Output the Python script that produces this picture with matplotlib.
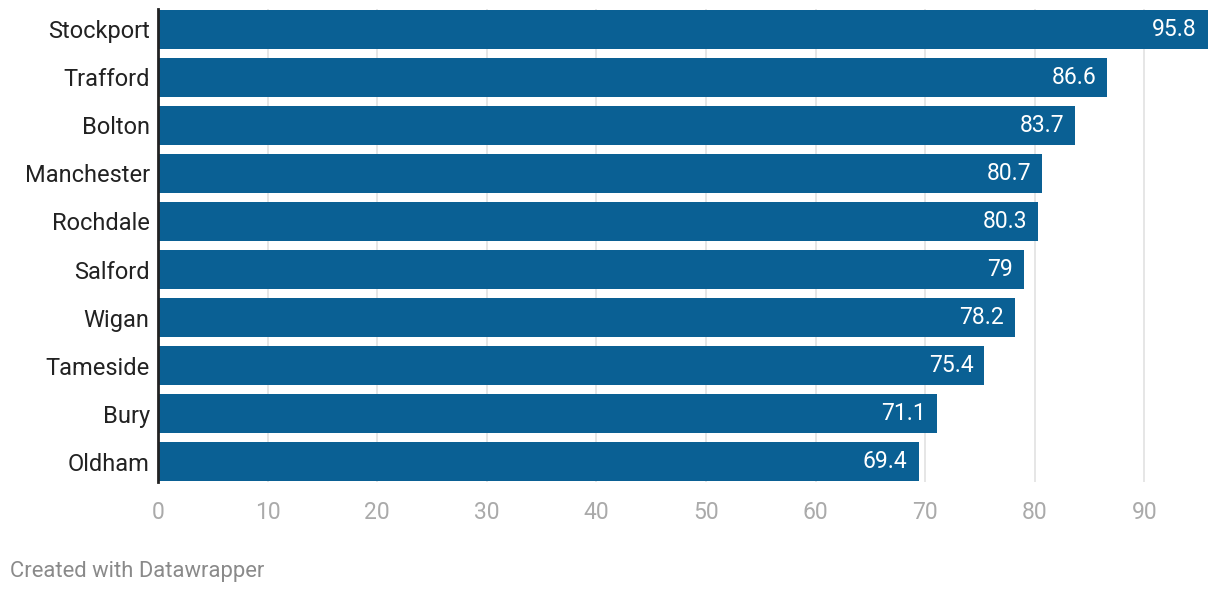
import matplotlib.pyplot as plt

plt.rcParams["font.family"] = ["Roboto", "DejaVu Sans"]

# Data
districts = ["Stockport", "Trafford", "Bolton", "Manchester", "Rochdale",
             "Salford", "Wigan", "Tameside", "Bury", "Oldham"]
values = [95.8, 86.6, 83.7, 80.7, 80.3, 79, 78.2, 75.4, 71.1, 69.4]
value_labels = ["95.8", "86.6", "83.7", "80.7", "80.3", "79", "78.2", "75.4", "71.1", "69.4"]
x_ticks = [0, 10, 20, 30, 40, 50, 60, 70, 80, 90]

bar_color = "#0a6094"

fig = plt.figure(figsize=(12.2, 5.94), dpi=100)
ax = fig.add_axes([158 / 1220, 1 - 482 / 594, 1050 / 1220, 473 / 594])

pos = list(range(len(districts)))
ax.barh(pos, values, height=0.81, color=bar_color, zorder=2)

for p, v, lab in zip(pos, values, value_labels):
    ax.text(v - 1.0, p, lab, ha="right", va="center", color="white",
            fontsize=16.5, zorder=3)

ax.set_xlim(0, 95.8)
ax.set_ylim(9.42, -0.42)
ax.set_yticks(pos)
ax.set_yticklabels(districts, fontsize=17, color="#222222")
ax.set_xticks(x_ticks)
ax.set_xticklabels([str(t) for t in x_ticks], fontsize=16.5, color="#aaaaaa")
ax.tick_params(axis="both", length=0)
ax.tick_params(axis="x", pad=14)
ax.tick_params(axis="y", pad=6)

ax.grid(axis="x", color="#e2e2e2", linewidth=1.2, zorder=0)
for side in ["top", "right", "bottom"]:
    ax.spines[side].set_visible(False)
ax.spines["left"].set_color("#222222")
ax.spines["left"].set_linewidth(2)
ax.spines["left"].set_zorder(4)

fig.text(10 / 1220, 1 - 571 / 594, "Created with Datawrapper", fontsize=15.8,
         color="#8a8a8a", va="center", ha="left")

fig.savefig("out.png", dpi=100)
